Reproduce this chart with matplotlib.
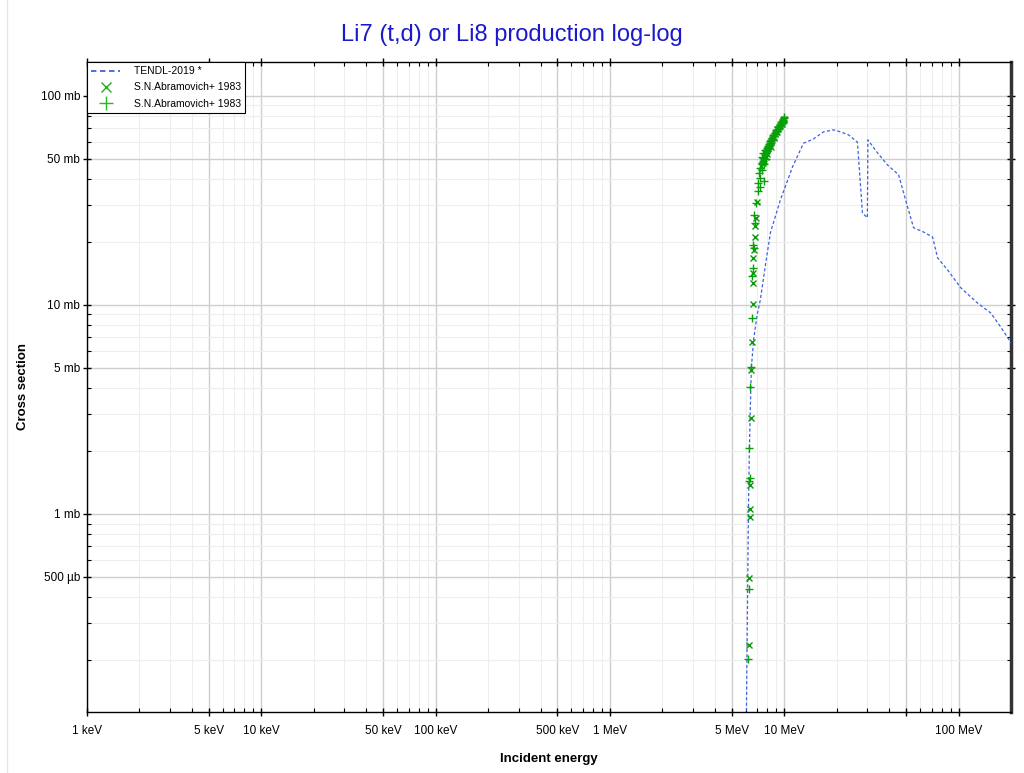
import matplotlib
matplotlib.use("Agg")
import matplotlib.pyplot as plt
from matplotlib.ticker import FixedLocator, FixedFormatter, NullFormatter
from matplotlib.lines import Line2D

plt.rcParams["font.family"] = ["Liberation Sans", "DejaVu Sans"]

# TENDL-2019 evaluated curve (MeV, mb)
tendl_e = [6.05, 6.07, 6.16, 6.23, 6.30, 6.40, 6.48, 6.70, 7.00, 7.30, 7.80, 8.34,
           9.51, 11.15, 12.9, 14.7, 16.8, 19.2, 21.0, 23.4, 26.3, 28.1, 30.0, 30.2,
           34.3, 39.1, 45.3, 51.0, 55.2, 63.0, 71.0, 75.8, 86.5, 102.7, 128.5,
           152.7, 174.3, 200.0]
tendl_xs = [0.08, 0.113, 0.39, 1.0, 1.9, 3.4, 5.05, 7.0, 9.0, 10.6, 15.5, 22.2,
            31.8, 45.6, 59.3, 62.1, 67.2, 68.7, 67.2, 65.0, 60.0, 27.5, 26.1, 61.5,
            53.3, 46.7, 41.9, 29.4, 23.4, 22.3, 21.1, 16.8, 14.7, 12.1, 10.2,
            9.16, 7.86, 6.58]

# S.N.Abramovich+ 1983, first data set (x markers)
abr_x_e = [6.255, 6.313, 6.338, 6.338, 6.338, 6.424, 6.481, 6.506, 6.596, 6.596,
           6.655, 6.655, 6.744, 6.808, 6.833, 6.86, 6.99,
           7.40, 7.50, 7.58, 7.62, 7.70, 7.78, 7.82, 7.92, 8.00, 8.08, 8.18, 8.28,
           8.35, 8.45, 8.55, 8.62, 8.70, 8.82, 8.95, 9.05, 9.15, 9.25, 9.35, 9.45,
           9.55, 9.65, 9.75, 9.85, 9.95, 10.0]
abr_x_xs = [0.236, 0.494, 0.971, 1.053, 1.376, 2.88, 4.89, 6.65, 10.1, 12.7,
            14.2, 16.8, 18.3, 21.2, 23.7, 26.0, 31.2,
            46.0, 49.5, 47.5, 51.5, 48.5, 53.5, 51.0, 55.0, 52.5, 56.0, 58.0, 59.5,
            57.0, 61.0, 62.0, 63.5, 62.5, 65.5, 67.0, 67.0, 69.0, 69.5, 71.0, 71.5,
            73.0, 73.5, 75.0, 75.5, 77.0, 76.5]

# S.N.Abramovich+ 1983, second data set (+ markers)
abr_p_e = [6.23, 6.288, 6.313, 6.338, 6.288, 6.372, 6.424, 6.506, 6.543, 6.63,
           6.683, 6.655, 6.77, 6.72, 6.924, 7.085, 7.235, 7.085, 7.698, 7.302,
           7.21, 7.47, 7.302,
           7.45, 7.50, 7.55, 7.60, 7.65, 7.70, 7.75, 7.80, 7.85, 7.90, 7.95, 8.00,
           8.05, 8.10, 8.15, 8.20, 8.25, 8.30, 8.40, 8.45, 8.50, 8.60, 8.65, 8.75,
           8.80, 8.90, 9.00, 9.10, 9.20, 9.30, 9.40, 9.50, 9.60, 9.70, 9.80, 9.90,
           10.0, 9.95]
abr_p_xs = [0.202, 0.438, 1.443, 1.49, 2.07, 4.05, 5.05, 8.67, 13.7, 15.0,
            18.7, 19.4, 24.6, 26.9, 30.7, 35.2, 36.6, 38.2, 38.9, 40.4,
            42.7, 44.3, 45.1,
            47.5, 51.0, 49.0, 53.5, 47.0, 50.5, 52.5, 55.0, 50.0, 53.0, 56.5, 54.5,
            57.5, 55.5, 59.0, 57.0, 60.5, 58.0, 61.5, 59.5, 63.0, 62.0, 65.0, 64.0,
            66.5, 66.0, 68.5, 68.0, 70.5, 70.0, 72.5, 72.0, 74.5, 74.0, 76.5, 76.0,
            78.0, 79.0]

x_major = [1e-3, 5e-3, 1e-2, 5e-2, 1e-1, 5e-1, 1.0, 5.0, 10.0, 50.0, 100.0]
x_labels = ["1 keV", "5 keV", "10 keV", "50 keV", "100 keV", "500 keV", "1 MeV",
            "5 MeV", "10 MeV", "", "100 MeV"]
y_major = [0.5, 1.0, 5.0, 10.0, 50.0, 100.0]
y_labels = ["500 µb", "1 mb", "5 mb", "10 mb", "50 mb", "100 mb"]

fig = plt.figure(figsize=(10.24, 7.73), dpi=100)
ax = fig.add_axes([87 / 1024, 1 - 712 / 773, 924 / 1024, 650 / 773])

ax.plot(tendl_e, tendl_xs, color="#3a62e0", linestyle=(0, (2.5, 1.8)),
        linewidth=0.9, zorder=3)
ax.plot(abr_x_e, abr_x_xs, linestyle="none", marker="x", markersize=4,
        markeredgewidth=1.0, color="#0a9a0a", zorder=4)
ax.plot(abr_p_e, abr_p_xs, linestyle="none", marker="+", markersize=6,
        markeredgewidth=1.0, color="#08a008", zorder=4)

ax.set_xscale("log")
ax.set_yscale("log")
ax.set_xlim(1e-3, 200.0)
ax.set_ylim(0.113, 145.0)

minor_x = []
minor_y = []
for dec in range(-3, 3):
    for m in [2, 3, 4, 6, 7, 8, 9]:
        minor_x.append(m * 10.0 ** dec)
for dec in range(-1, 3):
    for m in [2, 3, 4, 6, 7, 8, 9]:
        minor_y.append(m * 10.0 ** dec)

ax.xaxis.set_major_locator(FixedLocator(x_major))
ax.xaxis.set_major_formatter(FixedFormatter(x_labels))
ax.xaxis.set_minor_locator(FixedLocator(minor_x))
ax.xaxis.set_minor_formatter(NullFormatter())
ax.yaxis.set_major_locator(FixedLocator(y_major))
ax.yaxis.set_major_formatter(FixedFormatter(y_labels))
ax.yaxis.set_minor_locator(FixedLocator(minor_y))
ax.yaxis.set_minor_formatter(NullFormatter())

ax.grid(True, which="major", color="#cfcfcf", linewidth=1.0)
ax.grid(True, which="minor", color="#eeeeee", linewidth=0.8)
ax.set_axisbelow(True)

ax.tick_params(which="major", direction="inout", length=6, width=1.0,
               labelsize=8.5, top=True, right=True, pad=2)
ax.tick_params(which="minor", direction="in", length=3, width=0.8,
               top=True, right=True)
ax.tick_params(axis="x", which="major", pad=6)

for side in ["left", "top", "bottom"]:
    ax.spines[side].set_linewidth(1.0)
    ax.spines[side].set_color("black")
ax.spines["right"].set_linewidth(2.5)
ax.spines["right"].set_color("#333333")

ax.set_xlabel("Incident energy", fontsize=9.5, fontweight="bold", labelpad=12)
ax.set_ylabel("Cross section", fontsize=9.5, fontweight="bold", labelpad=8)
fig.text(0.5, 1 - 35 / 773, "Li7 (t,d) or Li8 production log-log", color="#1a1acc",
         fontsize=17, ha="center", va="center")

handles = [
    Line2D([], [], color="#3a62e0", linestyle=(0, (3, 2)), linewidth=1.3),
    Line2D([], [], color="#22aa22", linestyle="none", marker="x", markersize=7,
           markeredgewidth=1.0),
    Line2D([], [], color="#22bb22", linestyle="none", marker="+", markersize=10,
           markeredgewidth=1.0),
]
labels = ["TENDL-2019 *", "S.N.Abramovich+ 1983", "S.N.Abramovich+ 1983"]
leg = ax.legend(handles, labels, loc="upper left", fontsize=7.5, frameon=True,
                fancybox=False, borderaxespad=0, handlelength=2.8, borderpad=0.4,
                labelspacing=0.6, handletextpad=1.3)
leg.get_frame().set_edgecolor("black")
leg.get_frame().set_linewidth(0.8)
leg.get_frame().set_alpha(1.0)

fig.add_artist(Line2D([7 / 1024, 7 / 1024], [0, 1], color="#e6e6e6",
                      linewidth=1.0, transform=fig.transFigure))

fig.savefig("out.png", dpi=100)
